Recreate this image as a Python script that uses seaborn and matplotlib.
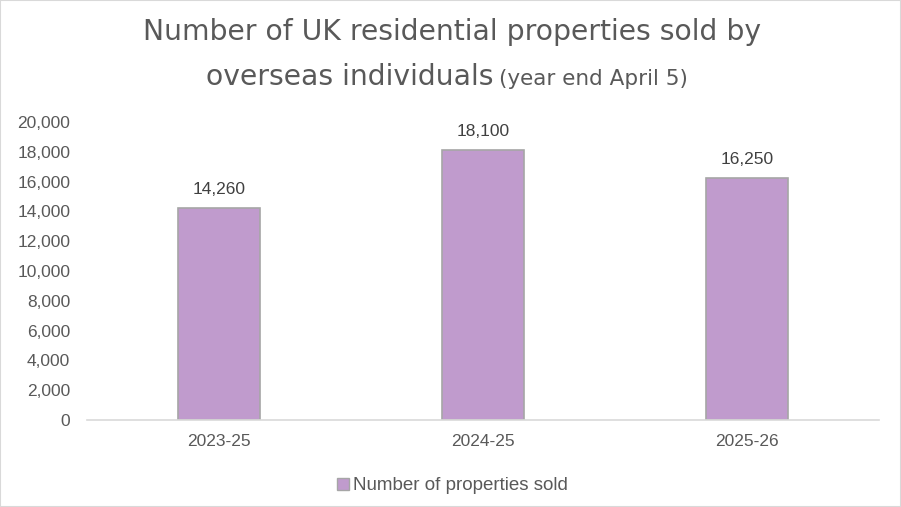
import seaborn as sns
import matplotlib.pyplot as plt
import pandas as pd
from matplotlib.patches import Patch, Rectangle

# data
periods = ["2023-25", "2024-25", "2025-26"]
sold = [14260, 18100, 16250]
y_ticks = [0, 2000, 4000, 6000, 8000, 10000, 12000, 14000, 16000, 18000, 20000]

df = pd.DataFrame({"period": periods, "sold": sold})

sns.set_theme(style="white")
plt.rcParams["font.family"] = ["Liberation Sans", "DejaVu Sans"]

bar_color = "#C09BCD"
text_color = "#595959"

fig = plt.figure(figsize=(9.01, 5.07), dpi=100)
ax = fig.add_axes([87 / 901, 1 - 420 / 507, (879 - 87) / 901, (420 - 122) / 507])

sns.barplot(data=df, x="period", y="sold", color=bar_color, width=0.31,
            edgecolor="#A6A6A6", linewidth=1.2, saturation=1, ax=ax)

for i, v in enumerate(sold):
    ax.text(i, v + 940, f"{v:,}", ha="center", va="baseline",
            fontsize=12.5, color="#404040")

ax.set_ylim(0, 20000)
ax.set_xlim(-0.5, 2.5)
ax.set_yticks(y_ticks)
ax.set_yticklabels([f"{t:,}" for t in y_ticks])
ax.tick_params(axis="both", labelsize=12.5, labelcolor=text_color, length=0)
ax.tick_params(axis="y", pad=12)
ax.tick_params(axis="x", pad=10)
ax.set_xlabel("")
ax.set_ylabel("")
for s in ["top", "right", "left"]:
    ax.spines[s].set_visible(False)
ax.spines["bottom"].set_color("#D9D9D9")
ax.spines["bottom"].set_linewidth(1.2)

# title
title_font = ["DejaVu Sans"]
fig.text(452 / 901, 1 - 40 / 507, "Number of UK residential properties sold by",
         ha="center", va="baseline", fontsize=20.3, color=text_color, family=title_font)
fig.text(493 / 901, 1 - 85 / 507, "overseas individuals",
         ha="right", va="baseline", fontsize=20.3, color=text_color, family=title_font)
fig.text(499 / 901, 1 - 85 / 507, "(year end April 5)",
         ha="left", va="baseline", fontsize=15.5, color=text_color, family=title_font)

# legend
handle = Patch(facecolor=bar_color, edgecolor="#A6A6A6", label="Number of properties sold")
fig.legend(handles=[handle], loc="center", bbox_to_anchor=(452 / 901, 1 - 486 / 507),
           frameon=False, fontsize=13.5, labelcolor=text_color,
           handlelength=0.65, handleheight=0.65, handletextpad=0.2)

# chart border
fig.patches.append(Rectangle((0, 0), 1, 1, transform=fig.transFigure, fill=False,
                             edgecolor="#D9D9D9", linewidth=1.5))

fig.savefig("out.png", dpi=100)
